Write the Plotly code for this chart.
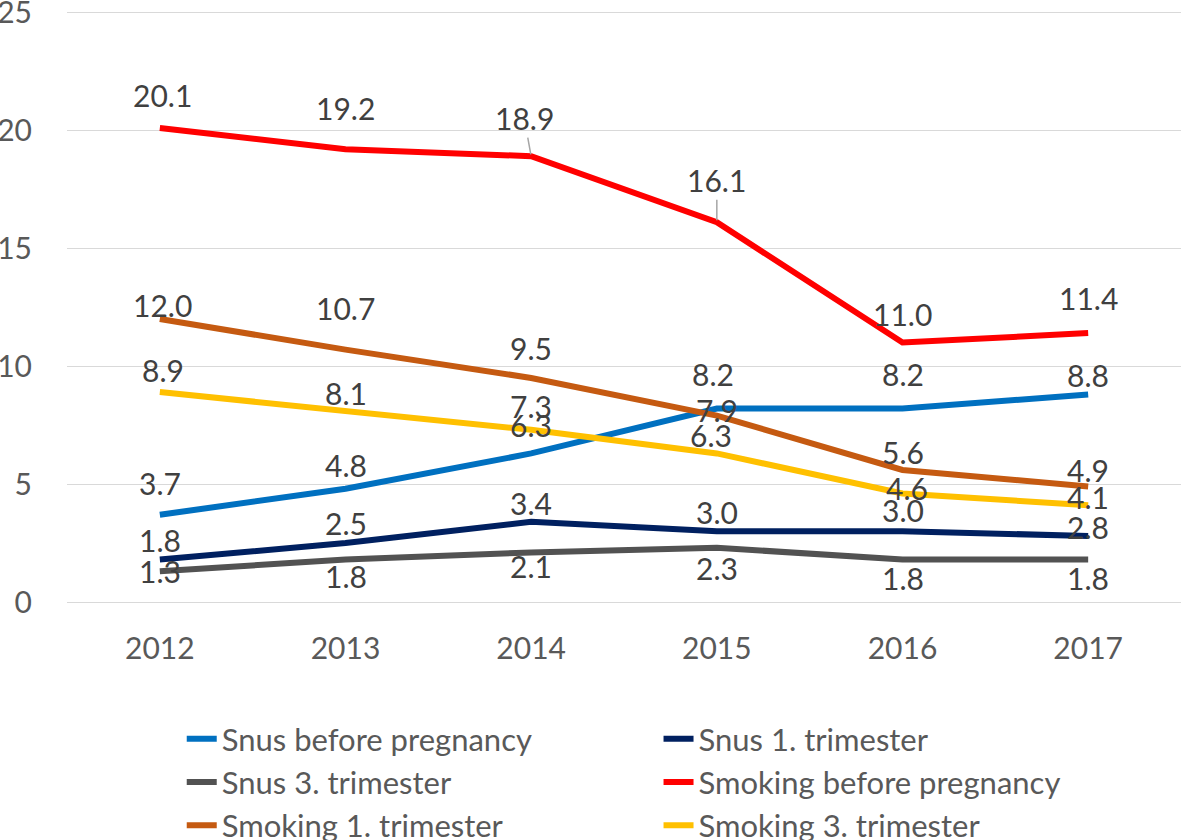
import plotly.graph_objects as go

years = ["2012", "2013", "2014", "2015", "2016", "2017"]

snus_before = [3.7, 4.8, 6.3, 8.2, 8.2, 8.8]
snus_1 = [1.8, 2.5, 3.4, 3.0, 3.0, 2.8]
snus_3 = [1.3, 1.8, 2.1, 2.3, 1.8, 1.8]
smoking_before = [20.1, 19.2, 18.9, 16.1, 11.0, 11.4]
smoking_1 = [12.0, 10.7, 9.5, 7.9, 5.6, 4.9]
smoking_3 = [8.9, 8.1, 7.3, 6.3, 4.6, 4.1]

series_names = ["Snus before pregnancy", "Snus 1. trimester", "Snus 3. trimester",
                "Smoking before pregnancy", "Smoking 1. trimester", "Smoking 3. trimester"]
series_values = [snus_before, snus_1, snus_3, smoking_before, smoking_1, smoking_3]
colors = ["#0070C0", "#002060", "#525252", "#FF0000", "#C55A11", "#FFC000"]
legend_ids = ["legend", "legend2", "legend", "legend2", "legend", "legend2"]

# label offsets in pixels (positive = up)
label_shift = [
    [32, 24, 28, 35, 35, 19],
    [20, 20, 19, 19, 21, 9],
    [0, -16, -14, -20, -18, -18],
    [33, 41, 38, 42, 29, 35],
    [14, 42, 30, 6, 18, 16],
    [22, 18, 24, 18, 6, 8],
]
label_xshift = [
    [0, 0, 0, -4, 0, 0],
    [0, 0, 0, 0, 0, 0],
    [0, 0, 0, 0, 0, 0],
    [3, 0, -7, 0, 0, 0],
    [3, 0, 0, 0, 0, 0],
    [3, 0, 0, -6, 4, 0],
]
leader = {(3, 2), (3, 3)}

FONT = "Lato"
fig = go.Figure()
for name, vals, col, lg in zip(series_names, series_values, colors, legend_ids):
    fig.add_trace(go.Scatter(x=years, y=vals, mode="lines", name=name, legend=lg,
                             line=dict(color=col, width=6)))

for si, vals in enumerate(series_values):
    for i, v in enumerate(vals):
        if (si, i) in leader:
            fig.add_annotation(
                x=i, y=v, xref="x", yref="y", text=f"{v:.1f}", showarrow=True,
                arrowhead=0, arrowwidth=1.5, arrowcolor="#A6A6A6",
                ax=label_xshift[si][i], ay=-label_shift[si][i], standoff=2,
                font=dict(family=FONT, size=30, color="#404040"))
        else:
            fig.add_annotation(
                x=i, y=v, xref="x", yref="y", text=f"{v:.1f}", showarrow=False,
                xanchor="center", yanchor="middle",
                yshift=label_shift[si][i], xshift=label_xshift[si][i],
                font=dict(family=FONT, size=30, color="#404040"))

legend_common = dict(orientation="v", yanchor="top", xanchor="left",
                     font=dict(family=FONT, size=31, color="#595959"),
                     tracegroupgap=0, bgcolor="rgba(0,0,0,0)")

fig.update_layout(
    width=1181, height=840,
    margin=dict(l=67, r=0, t=10, b=238, autoexpand=False),
    paper_bgcolor="white", plot_bgcolor="white",
    font=dict(family=FONT, size=30, color="#595959"),
    showlegend=True,
    legend=dict(x=0.103, y=-0.186, **legend_common),
    legend2=dict(x=0.531, y=-0.186, **legend_common),
    xaxis=dict(type="category", range=[-0.5, 5.5], showgrid=False, zeroline=False,
               showline=False, ticks="outside", ticklen=20, tickcolor="rgba(0,0,0,0)",
               tickfont=dict(size=30, color="#595959")),
    yaxis=dict(range=[0, 25.1], tickvals=[0, 5, 10, 15, 20, 25], showgrid=True,
               gridcolor="#D9D9D9", gridwidth=1.2, zeroline=True, zerolinecolor="#D9D9D9",
               zerolinewidth=1.2, showline=False, ticks="outside", ticklen=28,
               tickcolor="rgba(0,0,0,0)", ticklabeloverflow="allow",
               tickfont=dict(size=30, color="#595959")),
)

fig.write_html(
    "out.html",
    config={"displayModeBar": False},
    post_script="document.body.style.margin='0px';document.body.style.overflow='hidden';",
)
